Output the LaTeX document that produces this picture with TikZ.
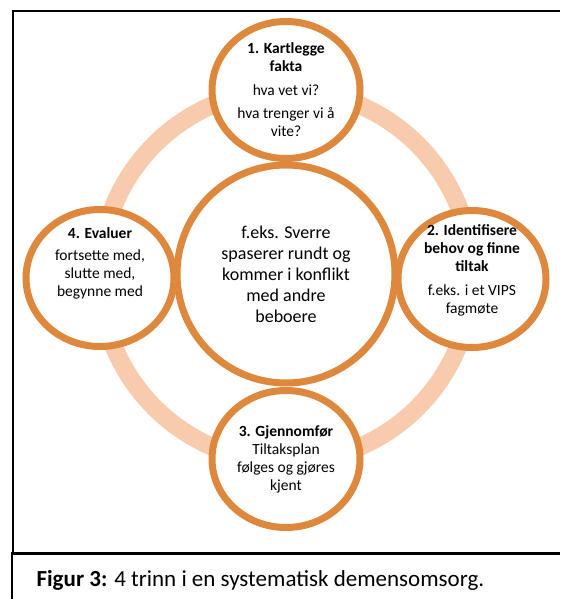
\documentclass[tikz,border=0pt]{standalone}
\usepackage{fontspec}
\setmainfont{Carlito}
\usetikzlibrary{shapes.geometric,shadows}
\definecolor{ringpeach}{RGB}{248,203,173}
\definecolor{steporange}{RGB}{222,136,62}

\begin{document}
\begin{tikzpicture}[x=1pt, y=-1pt,
	stepcircle/.style={draw=steporange, line width=7pt, fill=white, ellipse,
		minimum width=148pt, minimum height=137pt, inner sep=0pt,
		drop shadow={shadow xshift=0pt, shadow yshift=-2.5pt, opacity=0.18}},
	steptext/.style={align=center, font=\fontsize{15.5}{18}\selectfont},
	]
	\useasboundingbox (0,0) rectangle (560,599);

	% frame and caption box
	\draw[line width=2.4pt] (11.5,11) -- (560,11);
	\draw[line width=2pt] (12.5,10) -- (12.5,554);
	\draw[line width=2.4pt] (11,553.5) -- (560,553.5);
	\draw[line width=1.5pt] (12,553) -- (12,599);

	% ring
	\draw[ringpeach, line width=18pt] (286,276) circle [radius=186pt];

	\node[stepcircle, circle, minimum size=218pt] (sverre) at (286,274) {};
	\node[stepcircle] (kart) at (286,90) {};
	\node[stepcircle] (ident) at (472,279) {};
	\node[stepcircle] (gjenn) at (286,459) {};
	\node[stepcircle] (eval) at (100,278) {};

	\node[align=center, font=\fontsize{18}{21}\selectfont] (sverre-txt) at (sverre.center)
		{f.eks. Sverre\\spaserer rundt og\\kommer i konflikt\\med andre\\beboere};
	\node[steptext] (kart-txt) at (kart.center)
		{\textbf{1. Kartlegge}\\\textbf{fakta}\\[6pt]hva vet vi?\\[5pt]hva trenger vi å\\vite?};
	\node[steptext] (ident-txt) at ([yshift=9pt]ident.center)
		{\textbf{2. Identifisere}\\\textbf{behov og finne}\\\textbf{tiltak}\\[6pt]f.eks. i et VIPS\\fagmøte};
	\node[steptext] (gjenn-txt) at (gjenn.center)
		{\textbf{3. Gjennomfør}\\Tiltaksplan\\følges og gjøres\\kjent};
	\node[steptext] (eval-txt) at ([yshift=15pt]eval.center)
		{\textbf{4. Evaluer}\\[4pt]fortsette med,\\slutte med,\\begynne med};

	\node[anchor=base west, font=\fontsize{23}{27}\selectfont] (caption) at (33,586)
		{\textbf{Figur 3:} 4 trinn i en systematisk demensomsorg.};
\end{tikzpicture}
\end{document}
